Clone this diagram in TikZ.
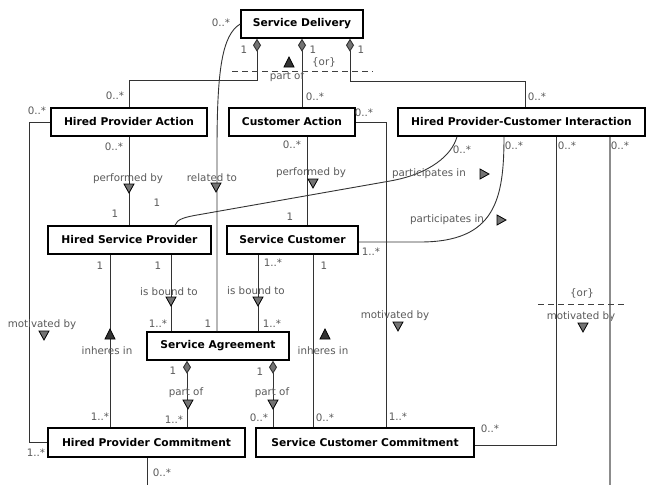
\documentclass[tikz,border=0pt]{standalone}
\usepackage{fontspec}
\setmainfont{DejaVu Sans}
\usetikzlibrary{arrows.meta}

\tikzset{
  classbox/.style={draw=black, line width=1.5pt, fill=white, minimum height=28pt,
    inner sep=0pt, font=\bfseries\fontsize{10.7}{12}\selectfont},
  conn/.style={draw=black!80, line width=0.9pt},
  lbl/.style={text=black!65, inner sep=0pt, font=\fontsize{10.3}{12}\selectfont},
  compo/.style={{Diamond[length=13pt,width=8pt,fill=black!55]}-},
  ordash/.style={draw=black!75, line width=0.9pt, dash pattern=on 6pt off 4pt},
  tridown/.pic={\draw[black, line width=0.8pt, fill=black!55] (-5,-4) -- (5,-4) -- (0,5) -- cycle;},
  triup/.pic={\draw[black, line width=0.8pt, fill=black!80] (-5,5) -- (5,5) -- (0,-5) -- cycle;},
  triright/.pic={\draw[black, line width=0.8pt, fill=black!55] (-4,-5) -- (-4,5) -- (5,0) -- cycle;},
}

\begin{document}
\begin{tikzpicture}[x=1pt, y=-1pt]
\useasboundingbox (0,0) rectangle (647,485);

% classes
\node[classbox, minimum width=122pt] (SD)   at (302,24)    {Service Delivery};
\node[classbox, minimum width=156pt] (HPA)  at (129,122)   {Hired Provider Action};
\node[classbox, minimum width=126pt] (CA)   at (292,122)   {Customer Action};
\node[classbox, minimum width=247pt] (HPCI) at (521.5,122) {Hired Provider-Customer Interaction};
\node[classbox, minimum width=163pt] (HSP)  at (129.5,240) {Hired Service Provider};
\node[classbox, minimum width=131pt] (SC)   at (292.5,240) {Service Customer};
\node[classbox, minimum width=142pt] (SA)   at (218,346)   {Service Agreement};
\node[classbox, minimum width=197pt, minimum height=29pt] (HPC) at (146.5,442.5) {Hired Provider Commitment};
\node[classbox, minimum width=218pt, minimum height=29pt] (SCC) at (365,442.5)   {Service Customer Commitment};

% composition: service delivery parts
\draw[conn, compo] (SD.south -| 257,0) |- (129,80) -- (HPA.north -| 129,0);
\draw[conn, compo] (SD.south -| 302,0) -- (CA.north -| 302,0);
\draw[conn, compo] (SD.south -| 350,0) |- (525,81) -- (HPCI.north -| 525,0);
\draw[ordash] (232,71) -- (373,71);
\node[lbl] (orA) at (324,62) {\{or\}};
\pic at (289,62) {triup};
\node[lbl] (partofA) at (287,77) {part of};
\node[lbl] at (244,50) {1};
\node[lbl] at (313,50) {1};
\node[lbl] at (361,50) {1};
\node[lbl] at (115,96) {0..*};
\node[lbl] at (315,97) {0..*};
\node[lbl] at (537,97) {0..*};

% related to
\draw[conn] (SD.west) .. controls (222,35) and (217,70) .. (217,150) -- (SA.north -| 217,0);
\node[lbl] at (221,23) {0..*};
\node[lbl] at (212,178) {related to};
\pic at (216,187) {tridown};
\node[lbl] at (208,324) {1};

% performed by
\draw[conn] (HPA.south -| 129,0) -- (HSP.north -| 129,0);
\node[lbl] at (114,147) {0..*};
\node[lbl] at (128,179) {performed by};
\pic at (129,188) {tridown};
\node[lbl] at (115,214) {1};

\draw[conn] (CA.south -| 307,0) -- (SC.north -| 307,0);
\node[lbl] at (292,145) {0..*};
\node[lbl] at (311,173) {performed by};
\pic at (313,183) {tridown};
\node[lbl] at (290,217) {1};

% participates in
\draw[conn] (HSP.north -| 175,0) .. controls (177,219) and (185,217) .. (200,214.5)
  -- (390,181) .. controls (430,174) and (452,155) .. (HPCI.south -| 457,0);
\node[lbl] at (157,203) {1};
\node[lbl] at (462,150) {0..*};
\node[lbl] at (429,174) {participates in};
\pic at (484,174) {triright};

\draw[conn] ([yshift=-2pt]SC.east) -- (420,242) .. controls (495,242) and (504,200) .. (HPCI.south -| 504,0);
\node[lbl] at (371,252) {1..*};
\node[lbl] at (514,146) {0..*};
\node[lbl] at (447,220) {participates in};
\pic at (501,220) {triright};

% is bound to
\draw[conn] (HSP.south -| 171,0) -- (SA.north -| 171,0);
\node[lbl] at (158,266) {1};
\node[lbl] at (169,292) {is bound to};
\pic at (171,301) {tridown};
\node[lbl] at (158,324) {1..*};

\draw[conn] (SC.south -| 258,0) -- (SA.north -| 258,0);
\node[lbl] at (273,263) {1..*};
\node[lbl] at (256,291) {is bound to};
\pic at (258,301) {tridown};
\node[lbl] at (272,324) {1..*};

% inheres in
\draw[conn] (HSP.south -| 110,0) -- (HPC.north -| 110,0);
\node[lbl] at (100,266) {1};
\pic at (110,334) {triup};
\node[lbl] at (107,351) {inheres in};
\node[lbl] at (100,417) {1..*};

\draw[conn] (SC.south -| 313,0) -- (SCC.north -| 313,0);
\node[lbl] at (324,266) {1};
\pic at (325,334) {triup};
\node[lbl] at (323,351) {inheres in};
\node[lbl] at (325,418) {0..*};

% agreement parts
\draw[conn, compo] (SA.south -| 187,0) -- (HPC.north -| 187,0);
\node[lbl] at (173,371) {1};
\node[lbl] at (186,393) {part of};
\pic at (188,404) {tridown};
\node[lbl] at (174,420) {1..*};

\draw[conn, compo] (SA.south -| 273,0) -- (SCC.north -| 273,0);
\node[lbl] at (260,372) {1};
\node[lbl] at (272,393) {part of};
\pic at (273,404) {tridown};
\node[lbl] at (259,418) {0..*};

% motivated by
\draw[conn] (HPA.west) -| (29,442) -- (HPC.west |- 29,442);
\node[lbl] at (37,111) {0..*};
\node[lbl] at (42,325) {motivated by};
\pic at (44,335) {tridown};
\node[lbl] at (36,453) {1..*};

\draw[conn] (CA.east) -| (SCC.north -| 386,0);
\node[lbl] at (364,113) {0..*};
\node[lbl] at (395,316) {motivated by};
\pic at (398,326) {tridown};
\node[lbl] at (398,417) {1..*};

\draw[conn] (HPCI.south -| 556,0) |- (SCC.east |- 0,445);
\node[lbl] at (567,146) {0..*};
\node[lbl] at (490,429) {0..*};
\node[lbl] at (581,317) {motivated by};
\pic at (583,327) {tridown};

% associations leaving the view
\coordinate (exitR) at (610,485);
\coordinate (exitL) at (147,485);
\draw[draw=black!45, line width=1.4pt] (HPCI.south -| 610,0) -- (exitR);
\node[lbl] at (620,146) {0..*};
\draw[conn] (HPC.south -| 147,0) -- (exitL);
\node[lbl] at (162,473) {0..*};
\draw[ordash] (538,304) -- (624,304);
\node[lbl] (orB) at (582,293) {\{or\}};

\end{tikzpicture}
\end{document}
